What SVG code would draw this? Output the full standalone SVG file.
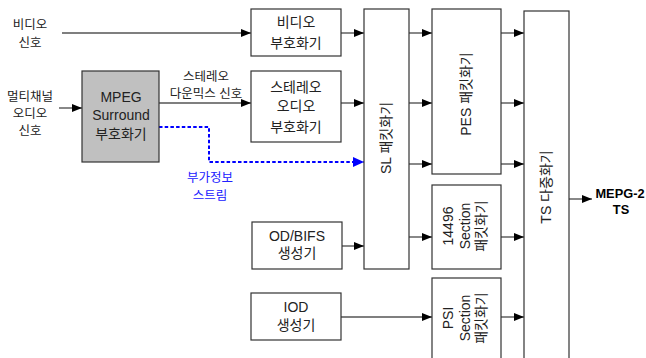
<svg xmlns="http://www.w3.org/2000/svg" width="646" height="358" viewBox="0 0 646 358">
<style>
text{font-family:"Liberation Sans","Noto Sans CJK KR",Arial,sans-serif;fill:#222}
.b{font-size:14px;text-anchor:middle}
.l{font-size:12.5px;text-anchor:middle}
.blue{fill:#2020ff}
.box{fill:#fff;stroke:#333;stroke-width:1.2}
.gray{fill:#c0c0c0}
.c{fill:none;stroke:#555;stroke-width:1.4;marker-end:url(#ah)}
.d{fill:none;stroke:#0000ff;stroke-width:2;stroke-dasharray:3.5 2.2;marker-end:url(#ahb)}
.o{font-size:12.8px;font-weight:bold;text-anchor:middle;fill:#000}
</style>
<defs>
<marker id="ah" markerUnits="userSpaceOnUse" markerWidth="10" markerHeight="8" refX="10" refY="4" orient="auto"><path d="M0,0 L10,4 L0,8 z" fill="#000"/></marker>
<marker id="ahb" markerUnits="userSpaceOnUse" markerWidth="11" markerHeight="10" refX="11" refY="5" orient="auto"><path d="M0,0 L11,5 L0,10 z" fill="#0000ff"/></marker>
</defs>
<rect width="646" height="358" fill="#fff"/>
<g id="connectors">
<path class="c" d="M62,33 H251"/>
<path class="c" d="M341,33 H364"/>
<path class="c" d="M59,108 H82"/>
<path class="c" d="M159,103 H251"/>
<path class="c" d="M341,103 H364"/>
<path class="d" d="M159,127 H209 V162 H364"/>
<path class="c" d="M342,246 H364"/>
<path class="c" d="M409,33 H432"/>
<path class="c" d="M409,103 H432"/>
<path class="c" d="M409,164 H432"/>
<path class="c" d="M409,237 H432"/>
<path class="c" d="M341,317 H432"/>
<path class="c" d="M501,33 H524"/>
<path class="c" d="M501,103 H524"/>
<path class="c" d="M501,164 H524"/>
<path class="c" d="M501,237 H524"/>
<path class="c" d="M501,317 H524"/>
<path class="c" d="M569,199 H592"/>
</g>
<g id="video-signal"><text class="l" x="30" y="29">비디오</text><text class="l" x="30" y="47">신호</text></g>
<g id="multichannel-signal"><text class="l" x="30" y="101">멀티채널</text><text class="l" x="30" y="118">오디오</text><text class="l" x="30" y="135">신호</text></g>
<g id="downmix-label"><text class="l" x="206" y="81">스테레오</text><text class="l" x="206" y="98">다운믹스 신호</text></g>
<g id="side-info-label"><text class="l blue" x="210" y="182">부가정보</text><text class="l blue" x="210" y="200">스트림</text></g>
<g id="mpeg-surround"><rect class="box gray" x="82" y="71" width="77" height="91"/><text class="b" x="121" y="102">MPEG</text><text class="b" x="121" y="120">Surround</text><text class="b" x="121" y="139">부호화기</text></g>
<g id="video-encoder"><rect class="box" x="251" y="9" width="90" height="47"/><text class="b" x="296" y="27">비디오</text><text class="b" x="296" y="48">부호화기</text></g>
<g id="stereo-encoder"><rect class="box" x="251" y="71" width="90" height="71"/><text class="b" x="296" y="92">스테레오</text><text class="b" x="296" y="111">오디오</text><text class="b" x="296" y="132">부호화기</text></g>
<g id="odbifs"><rect class="box" x="252" y="222" width="90" height="47"/><text class="b" x="297" y="241">OD/BIFS</text><text class="b" x="297" y="258">생성기</text></g>
<g id="iod"><rect class="box" x="251" y="293" width="90" height="47"/><text class="b" x="296" y="312">IOD</text><text class="b" x="296" y="330">생성기</text></g>
<g id="sl"><rect class="box" x="364" y="9" width="45" height="260"/><text class="b" transform="translate(386,138) rotate(-90)" y="5">SL 패킷화기</text></g>
<g id="pes"><rect class="box" x="432" y="9" width="69" height="165"/><text class="b" transform="translate(466,94) rotate(-90)" y="5">PES 패킷화기</text></g>
<g id="sec14496"><rect class="box" x="432" y="185" width="69" height="84"/><g transform="translate(448,226) rotate(-90)"><text class="b" y="5">14496</text><text class="b" y="22">Section</text><text class="b" y="38">패킷화기</text></g></g>
<g id="psi"><rect class="box" x="432" y="278" width="69" height="95"/><g transform="translate(448,318) rotate(-90)"><text class="b" y="5">PSI</text><text class="b" y="22">Section</text><text class="b" y="38">패킷화기</text></g></g>
<g id="ts"><rect class="box" x="524" y="11" width="45" height="360"/><text class="b" transform="translate(546,187) rotate(-90)" y="5">TS 다중화기</text></g>
<g id="output"><text class="o" x="620" y="198">MEPG-2</text><text class="o" x="621" y="214">TS</text></g>
</svg>
